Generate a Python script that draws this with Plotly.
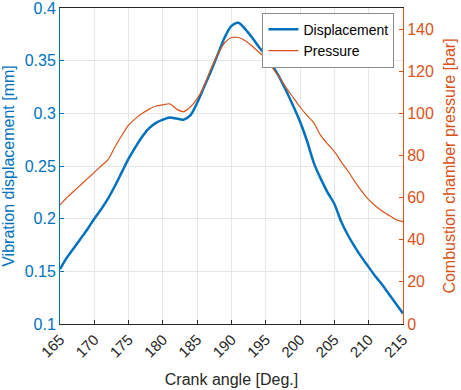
import plotly.graph_objects as go

crank_angle = list(range(165, 216))

displacement = [
    0.152, 0.163, 0.172, 0.181, 0.190, 0.200, 0.209, 0.219, 0.231, 0.244,
    0.257, 0.268, 0.278, 0.286, 0.291, 0.294, 0.296, 0.295, 0.294, 0.298,
    0.310, 0.325, 0.340, 0.356, 0.372, 0.383, 0.386, 0.380, 0.372, 0.363,
    0.355, 0.345, 0.334, 0.321, 0.307, 0.292, 0.274, 0.253, 0.238, 0.225,
    0.214, 0.197, 0.184, 0.173, 0.163, 0.154, 0.145, 0.137, 0.128, 0.119,
    0.110,
]

pressure = [
    56.5, 60.0, 63.0, 66.0, 69.0, 72.0, 75.0, 78.0, 84.0, 89.5,
    94.4, 97.5, 100.0, 102.0, 103.5, 104.0, 104.5, 102.0, 100.8, 103.0,
    107.0, 113.0, 121.0, 128.0, 133.5, 136.0, 136.0, 134.5, 132.0, 129.0,
    126.0, 121.5, 117.0, 112.0, 107.5, 103.0, 99.0, 95.5, 89.5, 85.5,
    81.8, 77.0, 72.5, 67.5, 63.0, 59.0, 56.0, 53.5, 51.5, 49.5,
    48.6,
]

x_ticks = list(range(165, 216, 5))
y1_ticks = [0.1, 0.15, 0.2, 0.25, 0.3, 0.35, 0.4]
y1_labels = ["0.1", "0.15", "0.2", "0.25", "0.3", "0.35", "0.4"]
y2_ticks = [0, 20, 40, 60, 80, 100, 120, 140]

BLUE = "#0072BD"
ORANGE = "#D95319"
DARK = "#262626"
FONT = "Liberation Sans, Arial, sans-serif"

fig = go.Figure()
fig.add_trace(go.Scatter(x=crank_angle, y=displacement, mode="lines",
                         name="Displacement",
                         line=dict(color=BLUE, width=2.5, shape="spline", smoothing=0.8),
                         yaxis="y"))
fig.add_trace(go.Scatter(x=crank_angle, y=pressure, mode="lines",
                         name="Pressure",
                         line=dict(color=ORANGE, width=1.2, shape="spline", smoothing=0.8),
                         yaxis="y2"))

fig.update_layout(
    width=461, height=390,
    margin=dict(l=60, r=58, t=8, b=66, autoexpand=False),
    paper_bgcolor="white", plot_bgcolor="white",
    font=dict(family=FONT, size=16, color=DARK),
    showlegend=True,
    legend=dict(x=0.975, y=0.985, xanchor="right", yanchor="top",
                bgcolor="white", bordercolor="#8c8c8c", borderwidth=1,
                font=dict(size=14, color="black"), itemwidth=30,
                tracegroupgap=0),
    xaxis=dict(range=[165, 215], tickvals=x_ticks, tickangle=-45,
               showgrid=True, gridcolor="#e6e6e6", gridwidth=1,
               showline=True, linecolor=DARK, linewidth=1, mirror=True,
               ticks="inside", ticklen=4, tickcolor=DARK, automargin=False,
               tickfont=dict(size=15, color=DARK), zeroline=False,
               title=dict(text="Crank angle [Deg.]", font=dict(size=16, color=DARK),
                          standoff=14)),
    yaxis=dict(range=[0.1, 0.40001], tickvals=y1_ticks, ticktext=y1_labels,
               showgrid=True, gridcolor="#e6e6e6", gridwidth=1,
               showline=True, linecolor=BLUE, linewidth=1,
               ticks="inside", ticklen=4, tickcolor=BLUE, automargin=False,
               ticklabeloverflow="allow",
               tickfont=dict(size=16, color=BLUE), zeroline=False,
               title=dict(text="Vibration displacement [mm]",
                          font=dict(size=16, color=BLUE), standoff=6)),
    yaxis2=dict(range=[0, 150], tickvals=y2_ticks, overlaying="y", side="right",
                showgrid=False, showline=True, linecolor=ORANGE, linewidth=1,
                ticks="inside", ticklen=4, tickcolor=ORANGE, automargin=False,
                ticklabeloverflow="allow",
                tickfont=dict(size=16, color=ORANGE), zeroline=False,
                title=dict(text="Combustion chamber pressure [bar]",
                           font=dict(size=16, color=ORANGE), standoff=10)),
)

fig.write_html("out.html",
               config={"displayModeBar": False},
               post_script="document.body.style.margin='0';document.body.style.padding='0';")
